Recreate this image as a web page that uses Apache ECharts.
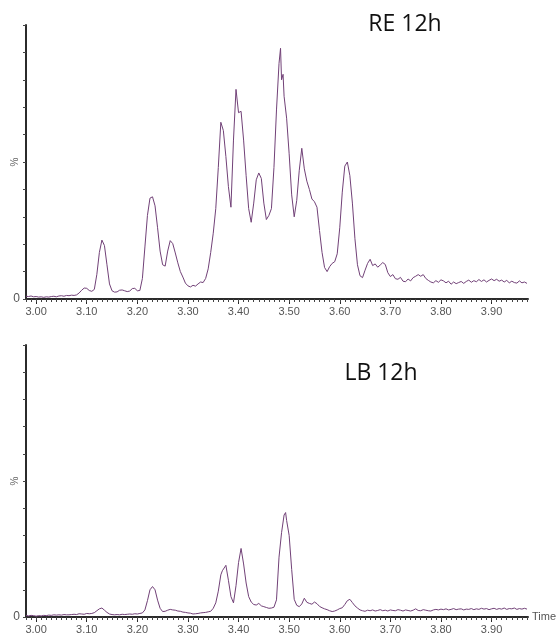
<!DOCTYPE html>
<html>
<head>
<meta charset="utf-8">
<title>RE 12h / LB 12h</title>
<script src="https://cdn.jsdelivr.net/npm/echarts@6/dist/echarts.min.js"></script>
<style>
  html, body { margin: 0; padding: 0; background: #ffffff; }
  #chart { width: 557px; height: 633px; }
</style>
</head>
<body>
<div id="chart"></div>
<script>
// Retention-time tick labels (minutes)
const xTickLabels = ['3.00', '3.10', '3.20', '3.30', '3.40', '3.50', '3.60', '3.70', '3.80', '3.90'];
const timeMin = 2.98;
const timeMax = 3.972;

// Relative intensity (%) versus time, RE 12h sample
const reTrace = [
  [2.980, 1.0], [2.985, 0.9], [2.990, 1.1], [2.995, 0.8], [3.000, 0.9], [3.005, 0.7], [3.010, 0.8], [3.015, 0.6],
  [3.020, 0.8], [3.025, 0.7], [3.030, 0.9], [3.035, 1.0], [3.040, 0.8], [3.045, 1.1], [3.050, 1.2], [3.055, 1.0],
  [3.060, 1.3], [3.065, 1.2], [3.070, 1.4], [3.075, 1.3], [3.080, 1.5], [3.085, 2.2], [3.090, 3.2], [3.095, 4.0],
  [3.100, 3.9], [3.105, 3.1], [3.110, 2.8], [3.115, 3.5], [3.120, 9.0], [3.125, 17.0], [3.130, 21.5], [3.135, 19.5],
  [3.140, 12.5], [3.145, 5.5], [3.150, 3.0], [3.155, 2.5], [3.160, 2.6], [3.165, 3.2], [3.170, 3.3], [3.175, 3.0],
  [3.180, 2.7], [3.185, 2.9], [3.190, 3.8], [3.195, 3.9], [3.200, 3.0], [3.205, 3.1], [3.210, 7.5], [3.215, 19.0],
  [3.220, 30.5], [3.225, 36.8], [3.230, 37.3], [3.235, 34.0], [3.240, 26.0], [3.245, 17.5], [3.250, 12.5], [3.255, 12.0],
  [3.260, 17.5], [3.265, 21.3], [3.270, 20.2], [3.275, 16.8], [3.280, 13.2], [3.285, 10.0], [3.290, 8.0], [3.295, 5.8],
  [3.300, 4.8], [3.305, 4.4], [3.310, 5.0], [3.315, 4.7], [3.320, 5.5], [3.325, 6.2], [3.330, 6.0], [3.335, 7.5],
  [3.340, 11.0], [3.345, 17.0], [3.350, 24.0], [3.355, 33.0], [3.360, 48.0], [3.365, 64.5], [3.370, 61.5], [3.375, 52.0],
  [3.380, 41.0], [3.385, 33.5], [3.390, 58.0], [3.395, 76.5], [3.400, 68.0], [3.405, 68.5], [3.410, 58.0], [3.415, 45.0],
  [3.420, 33.0], [3.425, 28.0], [3.430, 35.0], [3.435, 43.5], [3.440, 46.0], [3.445, 44.0], [3.450, 35.0], [3.455, 29.0],
  [3.460, 30.5], [3.465, 33.0], [3.470, 48.0], [3.475, 69.0], [3.480, 86.0], [3.483, 91.5], [3.485, 80.0], [3.488, 82.0],
  [3.490, 74.0], [3.495, 66.0], [3.500, 53.0], [3.505, 38.0], [3.510, 30.0], [3.515, 36.0], [3.520, 47.0], [3.525, 55.0],
  [3.530, 47.5], [3.535, 43.0], [3.540, 40.0], [3.545, 36.5], [3.550, 35.5], [3.555, 33.5], [3.560, 25.0], [3.565, 17.0],
  [3.570, 11.5], [3.575, 10.0], [3.580, 11.8], [3.585, 13.0], [3.590, 13.6], [3.595, 16.5], [3.600, 26.0], [3.605, 39.0],
  [3.610, 48.5], [3.615, 50.0], [3.620, 45.0], [3.625, 35.0], [3.630, 22.0], [3.635, 12.5], [3.640, 8.5], [3.645, 7.8],
  [3.650, 10.5], [3.655, 13.0], [3.660, 14.5], [3.665, 12.2], [3.670, 12.8], [3.675, 11.6], [3.680, 12.4], [3.685, 13.3],
  [3.690, 12.6], [3.695, 9.6], [3.700, 8.2], [3.705, 8.9], [3.710, 7.4], [3.715, 7.2], [3.720, 7.9], [3.725, 6.5],
  [3.730, 6.3], [3.735, 7.3], [3.740, 6.6], [3.745, 7.8], [3.750, 8.3], [3.755, 8.9], [3.760, 8.3], [3.765, 8.9],
  [3.770, 7.5], [3.775, 6.8], [3.780, 6.2], [3.785, 5.9], [3.790, 6.7], [3.795, 6.1], [3.800, 7.0], [3.805, 6.6],
  [3.810, 5.9], [3.815, 6.5], [3.820, 5.4], [3.825, 6.2], [3.830, 5.6], [3.835, 6.0], [3.840, 6.4], [3.845, 5.7],
  [3.850, 6.4], [3.855, 6.9], [3.860, 6.1], [3.865, 6.7], [3.870, 6.3], [3.875, 7.1], [3.880, 6.4], [3.885, 7.0],
  [3.890, 6.2], [3.895, 6.8], [3.900, 7.3], [3.905, 6.7], [3.910, 7.2], [3.915, 6.5], [3.920, 6.9], [3.925, 6.2],
  [3.930, 6.8], [3.935, 5.9], [3.940, 6.5], [3.945, 6.0], [3.950, 5.8], [3.955, 6.6], [3.960, 5.9], [3.965, 6.2],
  [3.970, 5.7]
];

// Relative intensity (%) versus time, LB 12h sample
const lbTrace = [
  [2.980, 0.6], [2.985, 0.4], [2.990, 0.6], [2.995, 0.5], [3.000, 0.3], [3.005, 0.5], [3.010, 0.4], [3.015, 0.6],
  [3.020, 0.5], [3.025, 0.7], [3.030, 0.6], [3.035, 0.8], [3.040, 0.7], [3.045, 0.8], [3.050, 0.7], [3.055, 0.9],
  [3.060, 0.8], [3.065, 0.8], [3.070, 0.9], [3.075, 1.0], [3.080, 0.9], [3.085, 1.2], [3.090, 1.1], [3.095, 1.0],
  [3.100, 1.3], [3.105, 1.2], [3.110, 1.3], [3.115, 1.6], [3.120, 2.3], [3.125, 3.0], [3.130, 3.3], [3.135, 2.5],
  [3.140, 1.7], [3.145, 1.1], [3.150, 0.9], [3.155, 0.8], [3.160, 0.9], [3.165, 0.8], [3.170, 1.0], [3.175, 0.9],
  [3.180, 1.0], [3.185, 1.1], [3.190, 1.0], [3.195, 1.2], [3.200, 1.1], [3.205, 1.3], [3.210, 1.5], [3.215, 2.6],
  [3.220, 6.0], [3.225, 10.0], [3.230, 11.2], [3.235, 10.0], [3.240, 6.2], [3.245, 3.2], [3.250, 2.0], [3.255, 2.1],
  [3.260, 2.5], [3.265, 2.8], [3.270, 2.6], [3.275, 2.5], [3.280, 2.2], [3.285, 2.1], [3.290, 1.8], [3.295, 1.7],
  [3.300, 1.5], [3.305, 1.4], [3.310, 1.1], [3.315, 1.2], [3.320, 1.3], [3.325, 1.5], [3.330, 1.6], [3.335, 1.7],
  [3.340, 1.9], [3.345, 2.1], [3.350, 3.2], [3.355, 5.2], [3.360, 9.5], [3.365, 15.5], [3.368, 17.0], [3.370, 16.5],
  [3.375, 19.0], [3.380, 13.5], [3.385, 7.5], [3.390, 5.2], [3.395, 11.5], [3.400, 20.0], [3.405, 25.2], [3.410, 19.5],
  [3.415, 12.5], [3.420, 7.5], [3.425, 5.5], [3.430, 4.6], [3.435, 4.4], [3.440, 5.0], [3.445, 4.1], [3.450, 3.8],
  [3.455, 3.5], [3.460, 3.2], [3.465, 3.3], [3.470, 3.6], [3.475, 6.3], [3.480, 22.0], [3.485, 31.0], [3.490, 37.5],
  [3.493, 38.4], [3.495, 35.5], [3.500, 30.0], [3.505, 17.5], [3.510, 6.5], [3.515, 4.3], [3.520, 3.8], [3.525, 4.8],
  [3.530, 6.9], [3.535, 5.4], [3.540, 5.0], [3.545, 4.7], [3.550, 5.5], [3.555, 4.9], [3.560, 3.9], [3.565, 3.4],
  [3.570, 3.0], [3.575, 2.7], [3.580, 2.3], [3.585, 2.0], [3.590, 2.2], [3.595, 2.6], [3.600, 3.1], [3.605, 3.4],
  [3.610, 4.6], [3.615, 6.0], [3.620, 6.5], [3.625, 5.3], [3.630, 4.1], [3.635, 3.3], [3.640, 2.6], [3.645, 2.3],
  [3.650, 2.1], [3.655, 2.5], [3.660, 2.3], [3.665, 2.6], [3.670, 2.2], [3.675, 2.4], [3.680, 2.7], [3.685, 2.3],
  [3.690, 2.5], [3.695, 2.2], [3.700, 2.6], [3.705, 2.4], [3.710, 2.3], [3.715, 2.7], [3.720, 2.5], [3.725, 2.2],
  [3.730, 2.6], [3.735, 2.4], [3.740, 2.2], [3.745, 2.5], [3.750, 3.0], [3.755, 2.4], [3.760, 2.3], [3.765, 2.7],
  [3.770, 2.5], [3.775, 2.3], [3.780, 2.2], [3.785, 2.6], [3.790, 2.8], [3.795, 2.6], [3.800, 2.9], [3.805, 2.7],
  [3.810, 3.0], [3.815, 2.6], [3.820, 2.8], [3.825, 3.1], [3.830, 2.7], [3.835, 2.9], [3.840, 3.0], [3.845, 2.6],
  [3.850, 2.9], [3.855, 2.8], [3.860, 3.1], [3.865, 2.7], [3.870, 3.0], [3.875, 2.8], [3.880, 3.2], [3.885, 2.9],
  [3.890, 3.1], [3.895, 2.7], [3.900, 3.0], [3.905, 3.2], [3.910, 2.8], [3.915, 3.1], [3.920, 2.9], [3.925, 3.3],
  [3.930, 2.8], [3.935, 3.1], [3.940, 3.0], [3.945, 3.3], [3.950, 2.8], [3.955, 3.1], [3.960, 2.9], [3.965, 3.2],
  [3.970, 2.9]
];

const panelTitles = ['RE 12h', 'LB 12h'];
const intensityUnit = '%';

// Major ticks come from the labels; minor ticks every 0.01 min
const majorTicks = xTickLabels.map(Number);
const minorTicks = [];
for (let i = 298; i <= 397; i++) minorTicks.push(i / 100);

const axisColor = '#2b2b2b';
const labelColor = '#555555';
const traceColor = '#714177';
const labelFont = 'Liberation Sans, Arial, sans-serif';

const grids = [
  { left: 26, top: 25, width: 502, height: 274, containLabel: false, outerBoundsMode: 'none' },
  { left: 26, top: 345, width: 502, height: 272, containLabel: false, outerBoundsMode: 'none' }
];

function majorAxis(gridIndex, withName) {
  return {
    gridIndex: gridIndex,
    type: 'value',
    position: 'bottom',
    min: timeMin,
    max: timeMax,
    name: withName ? 'Time' : '',
    nameLocation: 'end',
    nameGap: 4,
    nameTextStyle: { fontSize: 11, color: labelColor, fontFamily: labelFont, padding: [8, 0, 0, 0] },
    axisLine: { show: true, lineStyle: { color: axisColor, width: 2 } },
    axisTick: { show: true, customValues: majorTicks, length: 5, lineStyle: { color: axisColor, width: 1 } },
    axisLabel: {
      customValues: majorTicks,
      formatter: v => v.toFixed(2),
      margin: 7,
      fontSize: 11,
      color: labelColor,
      fontFamily: labelFont
    },
    splitLine: { show: false }
  };
}

function minorAxis(gridIndex) {
  return {
    gridIndex: gridIndex,
    type: 'value',
    position: 'bottom',
    min: timeMin,
    max: timeMax,
    axisLine: { show: false },
    axisTick: { show: true, customValues: minorTicks, length: 3, lineStyle: { color: '#444', width: 1 } },
    axisLabel: { show: false },
    splitLine: { show: false }
  };
}

function intensityAxis(gridIndex) {
  return {
    gridIndex: gridIndex,
    type: 'value',
    min: 0,
    max: 100,
    interval: 10,
    axisLine: { show: true, lineStyle: { color: axisColor, width: 2 } },
    axisTick: { show: true, length: 3, lineStyle: { color: '#444', width: 1 } },
    axisLabel: {
      customValues: [0],
      formatter: v => (v === 0 ? '0' : ''),
      margin: 6,
      fontSize: 12,
      color: labelColor,
      fontFamily: labelFont
    },
    splitLine: { show: false }
  };
}

function traceSeries(data, axisIndex) {
  return {
    type: 'line',
    xAxisIndex: axisIndex,
    yAxisIndex: axisIndex / 2,
    data: data,
    showSymbol: false,
    symbol: 'none',
    silent: true,
    lineStyle: { color: traceColor, width: 1 }
  };
}

// Rotated unit label beside each intensity axis
function unitLabel(cx, cy) {
  return {
    type: 'text', x: cx, y: cy, rotation: Math.PI / 2,
    style: { text: intensityUnit, fontSize: 10, fontFamily: labelFont, fill: '#666', align: 'center', verticalAlign: 'middle' }
  };
}

const chart = echarts.init(document.getElementById('chart'), null, { renderer: 'canvas' });

chart.setOption({
  animation: false,
  backgroundColor: '#ffffff',
  grid: grids,
  xAxis: [majorAxis(0, false), minorAxis(0), majorAxis(1, true), minorAxis(1)],
  yAxis: [intensityAxis(0), intensityAxis(1)],
  series: [traceSeries(reTrace, 0), traceSeries(lbTrace, 2)],
  graphic: [
    {
      type: 'text', x: 405, y: 24,
      style: { text: panelTitles[0], fontSize: 23, fontFamily: 'Open Sans, sans-serif', fill: '#111', align: 'center', verticalAlign: 'middle' }
    },
    {
      type: 'text', x: 381, y: 373,
      style: { text: panelTitles[1], fontSize: 23, fontFamily: 'Open Sans, sans-serif', fill: '#111', align: 'center', verticalAlign: 'middle' }
    },
    unitLabel(15, 162),
    unitLabel(15, 481)
  ]
});
</script>
</body>
</html>
